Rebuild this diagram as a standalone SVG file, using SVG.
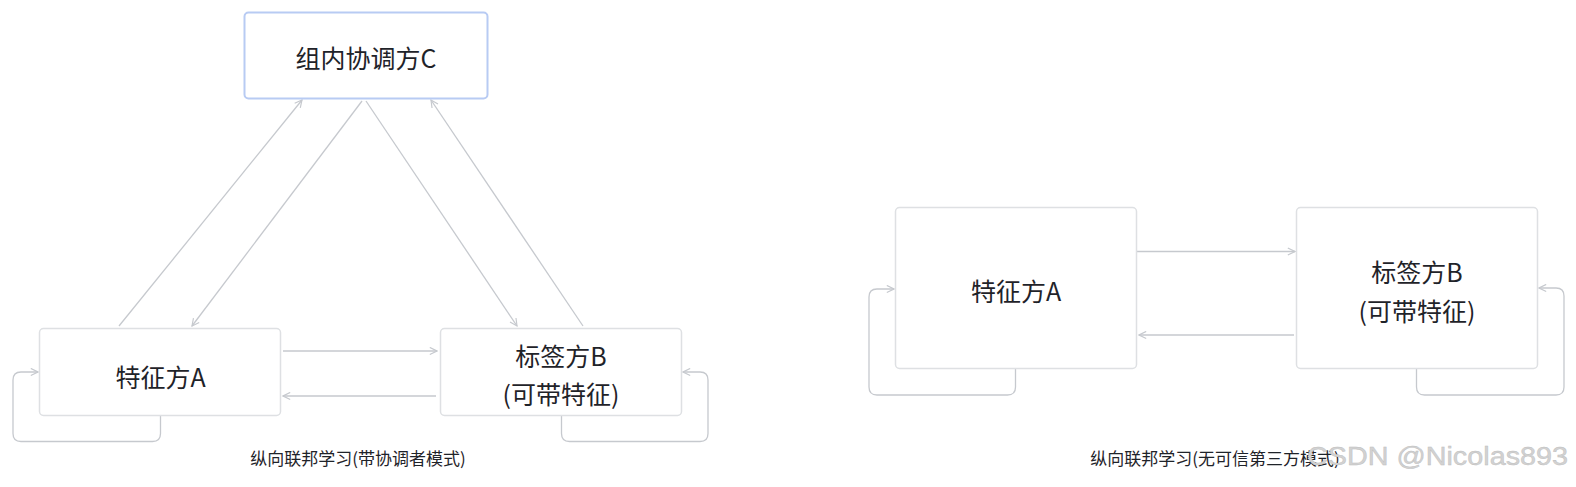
<svg xmlns="http://www.w3.org/2000/svg" width="1576" height="487" viewBox="0 0 1576 487">
<style>
.box{fill:#ffffff;stroke:#dee0e3;stroke-width:1.5}
.boxc{fill:#ffffff;stroke:#b8cbf3;stroke-width:2}
.lbl{font-family:"Noto Sans CJK SC",sans-serif;font-size:25px;fill:#1f2329;text-anchor:middle;dominant-baseline:central}
.cap{font-family:"Noto Sans CJK SC",sans-serif;font-size:17px;fill:#1f2329;text-anchor:middle;dominant-baseline:central}
.edge{fill:none;stroke:#c6c9ce;stroke-width:1.3;marker-end:url(#arr)}
</style>
<defs>
<marker id="arr" viewBox="0 0 10 10" refX="9" refY="5" markerWidth="9" markerHeight="9" markerUnits="userSpaceOnUse" orient="auto">
<path d="M1,1 L9,5 L1,9" fill="none" stroke="#c6c9ce" stroke-width="1.3"/>
</marker>
</defs>
<rect width="1576" height="487" fill="#ffffff"/>
<g id="connectors">
<line class="edge" x1="119" y1="326" x2="302" y2="100"/>
<line class="edge" x1="362" y1="101" x2="192" y2="326"/>
<line class="edge" x1="366" y1="101" x2="517" y2="326"/>
<line class="edge" x1="583" y1="326" x2="431" y2="100"/>
<line class="edge" x1="283" y1="351" x2="437" y2="351"/>
<line class="edge" x1="436" y1="396" x2="283" y2="396"/>
<path class="edge" d="M160.5,416 V433.5 Q160.5,441.5 152.5,441.5 H21 Q13,441.5 13,433.5 V380 Q13,372 21,372 H38"/>
<path class="edge" d="M561.5,416 V433.5 Q561.5,441.5 569.5,441.5 H700 Q708,441.5 708,433.5 V380 Q708,372 700,372 H683"/>
<line class="edge" x1="1137" y1="251.5" x2="1295" y2="251.5"/>
<line class="edge" x1="1294" y1="335" x2="1139" y2="335"/>
<path class="edge" d="M1015.5,369 V387 Q1015.5,395 1007.5,395 H877 Q869,395 869,387 V297 Q869,289 877,289 H894"/>
<path class="edge" d="M1416.5,369 V387 Q1416.5,395 1424.5,395 H1556 Q1564,395 1564,387 V296 Q1564,288 1556,288 H1539"/>
</g>
<g id="nodeC">
<rect class="boxc" x="244.5" y="12.5" width="243" height="86" rx="4"/>
<text class="lbl" x="366" y="57">组内协调方C</text>
</g>
<g id="nodeA1">
<rect class="box" x="39.5" y="328.5" width="241" height="87" rx="4"/>
<text class="lbl" x="160.5" y="376">特征方A</text>
</g>
<g id="nodeB1">
<rect class="box" x="440.5" y="328.5" width="241" height="87" rx="4"/>
<text class="lbl" x="561" y="355">标签方B</text>
<text class="lbl" x="561" y="393">(可带特征)</text>
</g>
<g id="caption1">
<text class="cap" x="358" y="457">纵向联邦学习(带协调者模式)</text>
</g>
<g id="nodeA2">
<rect class="box" x="895.5" y="207.5" width="241" height="161" rx="4"/>
<text class="lbl" x="1016" y="290">特征方A</text>
</g>
<g id="nodeB2">
<rect class="box" x="1296.5" y="207.5" width="241" height="161" rx="4"/>
<text class="lbl" x="1417" y="271">标签方B</text>
<text class="lbl" x="1417" y="310">(可带特征)</text>
</g>
<g id="caption2">
<text class="cap" x="1215" y="457">纵向联邦学习(无可信第三方模式)</text>
</g>
<g id="watermark">
<text x="1307" y="465" font-family="Liberation Sans, Arial, sans-serif" font-size="25" fill="#d2d2d2" stroke="#bdbdbd" stroke-width="0.4" textLength="261" lengthAdjust="spacingAndGlyphs">CSDN @Nicolas893</text>
</g>
</svg>
